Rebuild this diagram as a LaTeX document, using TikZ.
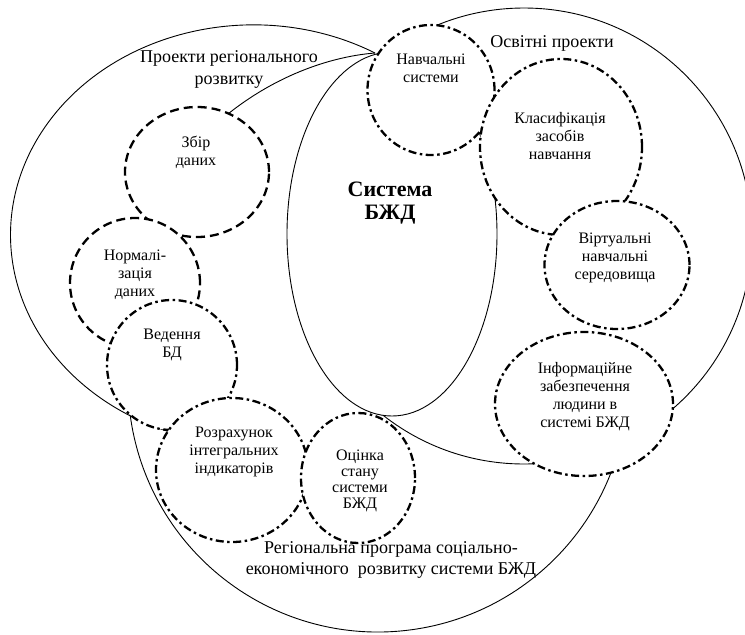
\documentclass[tikz,border=0pt]{standalone}
\usepackage{fontspec}
\setmainfont{Liberation Serif}
\usetikzlibrary{shapes.geometric}

\begin{document}
\begin{tikzpicture}[x=1pt, y=-1pt,
      bigline/.style  = {draw=black, line width=0.9pt},
      bigarea/.style  = {bigline, fill=white, ellipse, inner sep=0pt, outer sep=0pt},
      dashcirc/.style = {ellipse, draw, fill=white, line width=2.3pt,
          inner sep=0pt, outer sep=0pt, dash pattern=on 9pt off 5pt},
      dotcirc/.style  = {ellipse, draw, fill=white, line width=2.3pt,
          inner sep=0pt, outer sep=0pt,
          dash pattern=on 8pt off 3.5pt on 2.5pt off 3.5pt},
      txt/.style      = {align=center, inner sep=0pt, font=\fontsize{16}{18}\selectfont},
      lbl/.style      = {align=center, inner sep=0pt, font=\fontsize{18}{22}\selectfont},
    ]
    \useasboundingbox (0,0) rectangle (745,635);

    % ── Regional programme (lower arc) ─────────────────────────────
    \draw[bigline] (378,382) ++(173:250) arc[start angle=173, end angle=19, radius=250];

    % ── Regional projects (left crescent) ──────────────────────────
    \coordinate (tipL) at (375,53);
    \draw[bigline] (tipL) arc[start angle=-60, end angle=-249.5, x radius=243, y radius=210];
    \draw[bigline] (tipL) .. controls (325,57) and (265,80) .. (215,125);

    % ── Educational projects and the system ────────────────────────
    \node[bigarea, minimum width=456, minimum height=456] (osv) at (524,236) {};
    \node[bigarea, minimum width=210, minimum height=364] (sys) at (392,234) {};

    % ── Left group ─────────────────────────────────────────────────
    \node[dashcirc, minimum width=144, minimum height=130] (zbir) at (197,172) {};
    \node[dashcirc, minimum width=130, minimum height=130] (norm) at (135,283) {};
    \node[dotcirc,  minimum width=130, minimum height=130] (bd)   at (172,365) {};
    \node[dotcirc,  minimum width=152, minimum height=144] (rozr) at (232,470) {};
    \node[dotcirc,  minimum width=114, minimum height=130] (ocin) at (358,478) {};

    % ── Right group ────────────────────────────────────────────────
    \node[dotcirc, minimum width=127, minimum height=130] (navch) at (431,90)  {};
    \node[dotcirc, minimum width=162, minimum height=176] (klas)  at (561,147) {};
    \node[dotcirc, minimum width=145, minimum height=128] (virt)  at (617,265) {};
    \node[dotcirc, minimum width=178, minimum height=144] (info)  at (584,404) {};

    % ── Texts ──────────────────────────────────────────────────────
    \node[txt] (zbirT)  at (196,152) {Збір\\даних};
    \node[txt] (normT)  at (135,275) {Нормалі-\\зація\\даних};
    \node[txt] (bdT)    at (172,345) {Ведення\\БД};
    \node[txt] (rozrT)  at (234,452) {Розрахунок\\інтегральних\\індикаторів};
    \node[txt, font=\fontsize{16}{16}\selectfont] (ocinT) at (360,481)
        {Оцінка\\стану\\системи\\БЖД};
    \node[txt] (navchT) at (431,68)  {Навчальні\\системи};
    \node[txt] (klasT)  at (560,136) {Класифікація\\засобів\\навчання};
    \node[txt] (virtT)  at (615,258) {Віртуальні\\навчальні\\середовища};
    \node[txt] (infoT)  at (585,397) {Інформаційне\\забезпечення\\людини в\\системі БЖД};

    \node[txt, font=\bfseries\fontsize{22}{23}\selectfont] (sysT) at (390,203) {Система\\БЖД};
    \node[lbl] (regT) at (229,69)  {Проекти регіонального\\розвитку};
    \node[lbl] (osvT) at (552,43)  {Освітні проекти};
    \node[lbl, font=\fontsize{18}{21}\selectfont] (progT) at (391,560)
        {Регіональна програма соціально-\\економічного~ розвитку системи БЖД};

  \end{tikzpicture}
\end{document}
